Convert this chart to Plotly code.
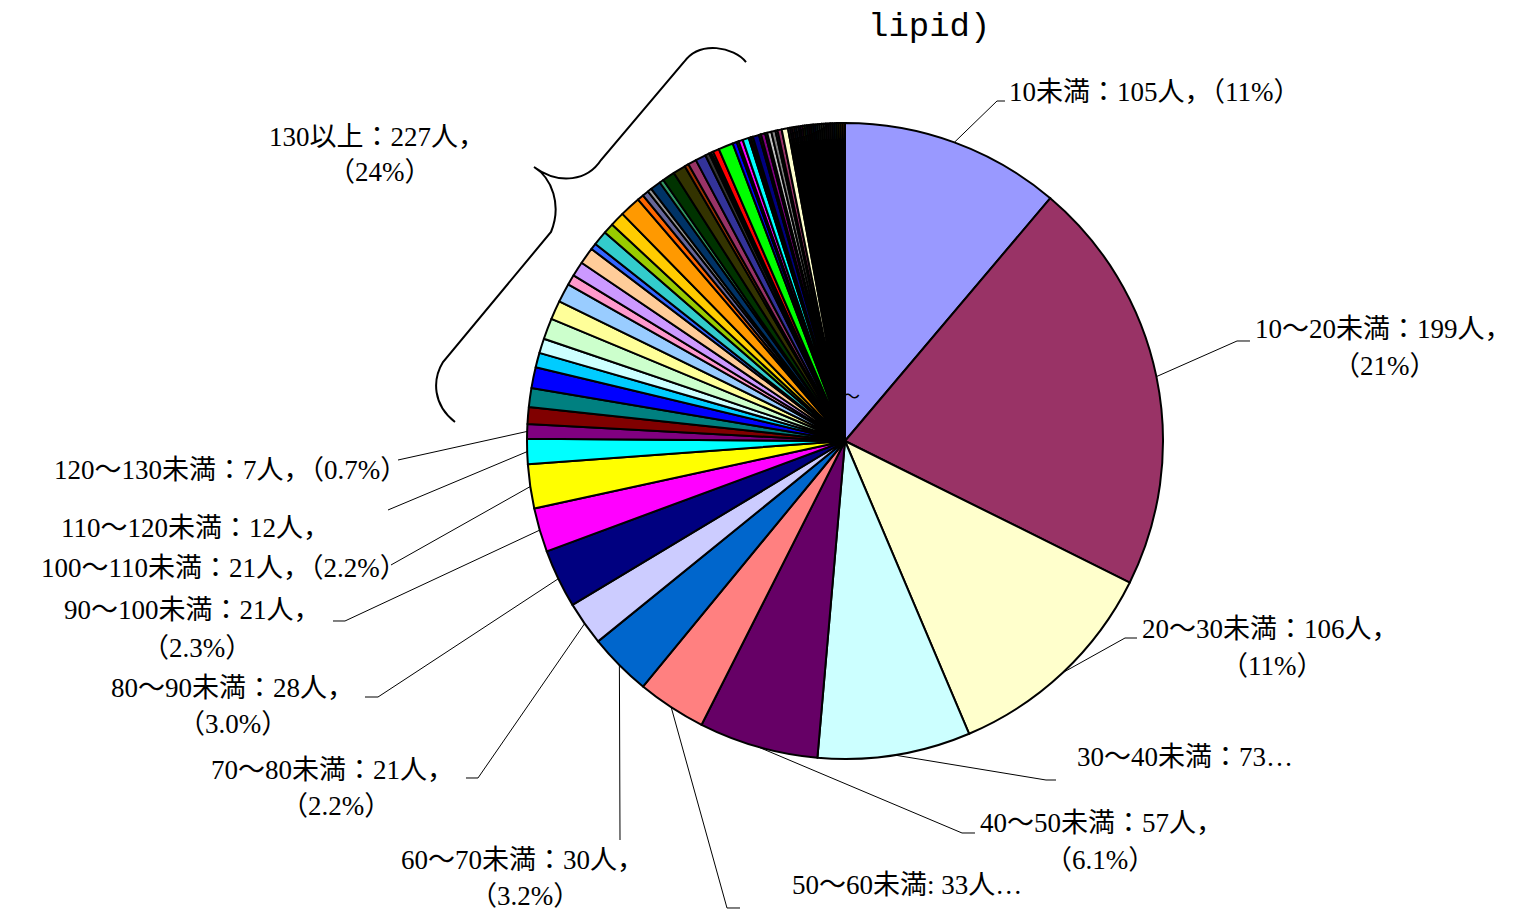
import math
import plotly.graph_objects as go

# reference canvas is 1517x915; the page adds an 8px body margin, so the figure is
# drawn 8px smaller and all reference pixel positions are shifted by that margin
REF_W, REF_H = 1517, 915
OFF = 8
W, H = REF_W - OFF, REF_H - OFF

# ---------------- data ----------------
main_categories = ["10未満", "10～20未満", "20～30未満", "30～40未満", "40～50未満",
                   "50～60未満", "60～70未満", "70～80未満", "80～90未満", "90～100未満",
                   "100～110未満", "110～120未満", "120～130未満"]
main_counts = [105, 199, 106, 73, 57, 33, 30, 21, 28, 21, 21, 12, 7]

# "130以上" (227 people) is split into many small slices in the original chart
over130_label = "130以上"
over130_counts = [8, 9, 10, 7, 7, 10, 9, 9, 5, 7, 8, 3, 7, 5, 7, 10, 3, 3, 2, 5, 2, 6, 6, 2, 4, 5, 2,
                  1, 1, 3, 7, 2, 1, 2, 3, 1, 1, 3, 1, 2, 1, 2, 2, 1, 2, 3,
                  1, 1, 1, 1, 1, 1, 1, 1, 1, 1, 1, 1, 1, 1, 1, 1, 1, 1, 1, 1, 1, 1, 1, 1, 1, 1, 1]

# label texts as printed on the chart
label_texts = {
    "10未満": ["10未満：105人，（11%）"],
    "10～20未満": ["10～20未満：199人，", "（21%）"],
    "20～30未満": ["20～30未満：106人，", "（11%）"],
    "30～40未満": ["30～40未満：73…"],
    "40～50未満": ["40～50未満：57人，", "（6.1%）"],
    "50～60未満": ["50～60未満: 33人…"],
    "60～70未満": ["60～70未満：30人，", "（3.2%）"],
    "70～80未満": ["70～80未満：21人，", "（2.2%）"],
    "80～90未満": ["80～90未満：28人，", "（3.0%）"],
    "90～100未満": ["90～100未満：21人，", "（2.3%）"],
    "100～110未満": ["100～110未満：21人，（2.2%）"],
    "110～120未満": ["110～120未満：12人，"],
    "120～130未満": ["120～130未満：7人，（0.7%）"],
    "130以上": ["130以上：227人，", "（24%）"],
}
title_text = "lipid)"

# Excel 56-colour palette (index 1..56); automatic fills start at index 17
EXCEL_PALETTE = [
    "#000000", "#FFFFFF", "#FF0000", "#00FF00", "#0000FF", "#FFFF00", "#FF00FF", "#00FFFF",
    "#800000", "#008000", "#000080", "#808000", "#800080", "#008080", "#C0C0C0", "#808080",
    "#9999FF", "#993366", "#FFFFCC", "#CCFFFF", "#660066", "#FF8080", "#0066CC", "#CCCCFF",
    "#000080", "#FF00FF", "#FFFF00", "#00FFFF", "#800080", "#800000", "#008080", "#0000FF",
    "#00CCFF", "#CCFFFF", "#CCFFCC", "#FFFF99", "#99CCFF", "#FF99CC", "#CC99FF", "#FFCC99",
    "#3366FF", "#33CCCC", "#99CC00", "#FFCC00", "#FF9900", "#FF6600", "#666699", "#969696",
    "#003366", "#339966", "#003300", "#333300", "#993300", "#993366", "#333399", "#333333",
]
fill_cycle = EXCEL_PALETTE[16:] + EXCEL_PALETTE[:16]

# ---------------- build ----------------
labels = main_categories + [f"{over130_label} #{i+1}" for i in range(len(over130_counts))]
values = main_counts + over130_counts
colors = [fill_cycle[i % len(fill_cycle)] for i in range(len(values))]
total = sum(values)

# pie geometry in reference pixels
CX, CY, R = 845, 441, 318


def px(x, y):
    return (x - OFF) / W, 1 - (y - OFF) / H


x0, y1 = px(CX - R, CY + R)
x1, y0 = px(CX + R, CY - R)
dom_x = [x0, x1]
dom_y = [y1, y0]


def rim_point(theta_deg):
    t = math.radians(theta_deg)
    return CX + R * math.sin(t), CY - R * math.cos(t)


# mid angles of the main categories (clockwise from 12 o'clock)
mid_angles = []
cum = 0
for v in main_counts:
    mid_angles.append((cum + v / 2) / total * 360)
    cum += v

fig = go.Figure(go.Pie(
    labels=labels, values=values, sort=False, direction="clockwise", rotation=0,
    marker=dict(colors=colors, line=dict(color="black", width=2)),
    textinfo="none", textposition="none", hoverinfo="label+value+percent",
    domain=dict(x=dom_x, y=dom_y), showlegend=False,
))

FONT = "Liberation Serif, Noto Sans CJK JP, serif"
FS = 27
annotations = []
shapes = []


def add_text(text, x, y, anchor="center", size=FS, family=FONT):
    ax, ay = px(x, y)
    annotations.append(dict(text=text, x=ax, y=ay, xref="paper", yref="paper",
                            xanchor=anchor, yanchor="middle", showarrow=False,
                            font=dict(family=family, size=size, color="black")))


def add_path(points, width=1.0):
    d = "M " + " L ".join(f"{px(x, y)[0]:.5f},{px(x, y)[1]:.5f}" for x, y in points)
    shapes.append(dict(type="path", path=d, xref="paper", yref="paper",
                       line=dict(color="black", width=width)))


# label placement (reference pixels): per line (x, y, anchor), leader elbow points
placement = {
    "10未満": ([(1007, 92, "left")], [(997, 101), (1005, 101)]),
    "10～20未満": ([(1253, 329, "left"), (1385, 366, "center")], [(1237, 341), (1250, 341)]),
    "20～30未満": ([(1140, 629, "left"), (1272, 666, "center")], [(1125, 638), (1137, 638)]),
    "30～40未満": ([(1075, 757, "left")], [(1046, 780), (1056, 780)]),
    "40～50未満": ([(978, 823, "left"), (1100, 860, "center")], [(962, 833), (975, 833)]),
    "50～60未満": ([(790, 885, "left")], [(727, 908), (740, 908)]),
    "60～70未満": ([(522, 860, "center"), (525, 896, "center")], [(620, 840)]),
    "70～80未満": ([(456, 770, "right"), (336, 806, "center")], [(478, 778), (466, 778)]),
    "80～90未満": ([(356, 688, "right"), (233, 724, "center")], [(378, 697), (365, 697)]),
    "90～100未満": ([(323, 610, "right"), (197, 648, "center")], [(345, 621), (333, 621)]),
    "100～110未満": ([(409, 568, "right")], [(391, 565)]),
    "110～120未満": ([(195, 528, "center")], [(388, 510)]),
    "120～130未満": ([(409, 470, "right")], [(398, 460)]),
}

for i, cat in enumerate(main_categories):
    pos, elbow = placement[cat]
    for line, (x, y, anc) in zip(label_texts[cat], pos):
        add_text(line, x, y, anc)
    add_path([rim_point(mid_angles[i])] + elbow)

# 130以上 label and brace
t130 = label_texts[over130_label]
add_text(t130[0], 377, 137, "center")
add_text(t130[1], 380, 172, "center")


def bez_path(segs):
    out = []
    for seg in segs:
        cmd, pts = seg[0], seg[1:]
        out.append(cmd + " " + " ".join(f"{px(x, y)[0]:.5f},{px(x, y)[1]:.5f}" for x, y in pts))
    return " ".join(out)


brace = bez_path([
    ("M", (746, 62)),
    ("C", (734, 47), (700, 40), (684, 62)),
    ("L", (601, 160)),
    ("C", (588, 180), (560, 186), (534, 167)),
    ("C", (552, 178), (562, 205), (551, 232)),
    ("L", (443, 362)),
    ("C", (432, 380), (433, 405), (455, 422)),
])
shapes.append(dict(type="path", path=brace, xref="paper", yref="paper",
                   line=dict(color="black", width=2)))

# title fragment and stray glyph
add_text(title_text, 929, 27, "center", size=34, family="Liberation Mono, monospace")
add_text("～", 851, 397, "center", size=18)

fig.update_layout(
    width=W, height=H, margin=dict(l=0, r=0, t=0, b=0),
    paper_bgcolor="white", plot_bgcolor="white",
    annotations=annotations, shapes=shapes,
)

fig.write_html("out.html")
